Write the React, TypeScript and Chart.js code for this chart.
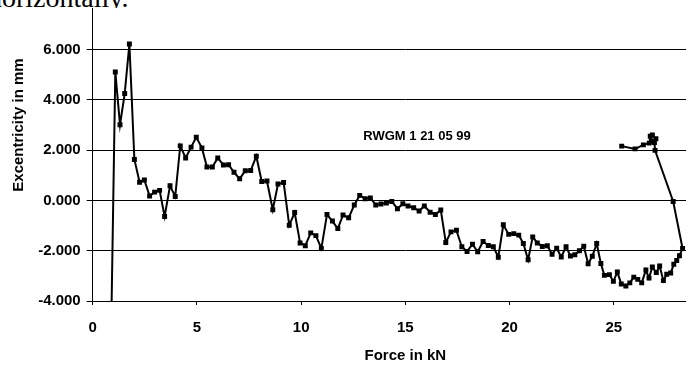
import React, { useEffect, useRef } from 'react';
import { Chart, registerables } from 'chart.js';

Chart.register(...registerables);

// Force in kN (loading up to ~28.3 kN, then unloading)
const forceKN: number[] = [
  0.89, 1.085, 1.31, 1.535, 1.76, 2.0, 2.25, 2.48, 2.73, 2.97, 3.21, 3.45, 3.71, 3.96,
  4.2, 4.46, 4.72, 4.97, 5.24, 5.48, 5.74, 6.0, 6.27, 6.52, 6.78, 7.05, 7.32, 7.58,
  7.85, 8.11, 8.36, 8.64, 8.89, 9.16, 9.43, 9.69, 9.95, 10.2, 10.46, 10.71, 10.97,
  11.24, 11.5, 11.76, 12.01, 12.28, 12.55, 12.81, 13.07, 13.32, 13.58, 13.83, 14.09,
  14.35, 14.62, 14.88, 15.13, 15.4, 15.66, 15.91, 16.19, 16.44, 16.7, 16.94, 17.19,
  17.45, 17.71, 17.96, 18.22, 18.47, 18.73, 18.98, 19.22, 19.46, 19.7, 19.96, 20.2,
  20.44, 20.66, 20.89, 21.11, 21.33, 21.57, 21.81, 22.04, 22.26, 22.48, 22.71, 22.92,
  23.13, 23.35, 23.56, 23.77, 23.97, 24.18, 24.38, 24.55, 24.79, 24.98, 25.17, 25.36,
  25.58, 25.77, 25.96, 26.15, 26.34, 26.54, 26.69, 26.85, 27.04, 27.2, 27.38, 27.54,
  27.73, 27.88, 28.02, 28.15, 28.3,
  27.85, 26.98, 26.95, 27.02, 26.85, 26.75, 26.8, 26.7, 26.42, 26.02, 25.38,
];

// Excentricity in mm
const excentricityMM: number[] = [
  -5.0, 5.11, 3.01, 4.25, 6.22, 1.63, 0.72, 0.81, 0.18, 0.33, 0.4, -0.64, 0.58, 0.16,
  2.17, 1.69, 2.12, 2.51, 2.09, 1.33, 1.33, 1.69, 1.41, 1.42, 1.12, 0.86, 1.18, 1.19,
  1.76, 0.75, 0.77, -0.37, 0.65, 0.71, -0.99, -0.48, -1.69, -1.8, -1.29, -1.4, -1.91,
  -0.56, -0.82, -1.12, -0.58, -0.69, -0.18, 0.2, 0.07, 0.1, -0.18, -0.14, -0.1,
  -0.04, -0.33, -0.13, -0.22, -0.29, -0.42, -0.22, -0.47, -0.56, -0.38, -1.67, -1.25,
  -1.19, -1.84, -2.03, -1.74, -2.04, -1.63, -1.79, -1.84, -2.26, -0.97, -1.35, -1.32,
  -1.38, -1.71, -2.36, -1.45, -1.69, -1.83, -1.8, -2.14, -1.9, -2.25, -1.84, -2.21,
  -2.16, -2.0, -1.82, -2.52, -2.22, -1.71, -2.51, -2.98, -2.95, -3.22, -2.85, -3.32,
  -3.4, -3.28, -3.05, -3.14, -3.28, -2.77, -3.09, -2.65, -2.87, -2.61, -3.19, -2.94,
  -2.89, -2.54, -2.39, -2.2, -1.91,
  -0.04, 1.99, 2.3, 2.45, 2.6, 2.55, 2.35, 2.28, 2.21, 2.05, 2.16,
];

const xAxisTitle = 'Force in kN';
const yAxisTitle = 'Excentricity in mm';
const xRange = [0, 30];
const yRange = [-4, 10];
const xStep = 5;
const yStep = 2;
const annotationText = 'RWGM 1 21 05 99';
const annotationAt = { x: 15.56, y: 2.55 };
const headerText = 'horizontally.';

const FONT = '"Liberation Sans", Arial, Helvetica, sans-serif';

export default function App() {
  const ref = useRef<HTMLCanvasElement>(null);

  useEffect(() => {
    if (!ref.current) return;
    const data = forceKN.map((f, i) => ({ x: f, y: excentricityMM[i] }));

    const annotate = {
      id: 'annotate',
      afterDatasetsDraw(chart: any) {
        const { ctx, scales } = chart;
        ctx.save();
        ctx.font = `bold 13px ${FONT}`;
        ctx.fillStyle = '#000';
        ctx.textAlign = 'center';
        ctx.textBaseline = 'middle';
        ctx.fillText(
          annotationText,
          scales.x.getPixelForValue(annotationAt.x),
          scales.y.getPixelForValue(annotationAt.y)
        );
        ctx.restore();
      },
    };

    const chart = new Chart(ref.current, {
      type: 'line',
      data: {
        datasets: [
          {
            data,
            borderColor: '#000',
            borderWidth: 2,
            pointStyle: 'rect',
            pointRadius: 3.5,
            pointBackgroundColor: '#000',
            pointBorderColor: '#000',
            pointBorderWidth: 0,
            tension: 0,
            fill: false,
          },
        ],
      },
      options: {
        animation: false,
        responsive: false,
        layout: { padding: { top: 10, right: 22, left: 0, bottom: 0 } },
        plugins: {
          legend: { display: false },
          tooltip: { enabled: false },
        },
        scales: {
          x: {
            type: 'linear',
            min: xRange[0],
            max: xRange[1],
            afterFit: (s: any) => {
              s.height = 64;
            },
            ticks: {
              stepSize: xStep,
              color: '#000',
              padding: 13.5,
              font: { family: FONT, size: 15, weight: 'bold' },
              maxRotation: 0,
            },
            grid: {
              display: true,
              drawOnChartArea: false,
              drawTicks: true,
              tickLength: 4,
              color: '#000',
            },
            border: { display: true, color: '#000', width: 1 },
            title: {
              display: true,
              text: xAxisTitle,
              color: '#000',
              font: { family: FONT, size: 15, weight: 'bold' },
              padding: { top: 0, bottom: 0 },
            },
          },
          y: {
            type: 'linear',
            min: yRange[0],
            max: yRange[1],
            afterFit: (s: any) => {
              s.width = 92.7;
            },
            ticks: {
              stepSize: yStep,
              color: '#000',
              padding: 6,
              font: { family: FONT, size: 15, weight: 'bold' },
              callback: (v: any) => Number(v).toFixed(3),
            },
            grid: {
              display: true,
              drawOnChartArea: true,
              drawTicks: true,
              tickLength: 6,
              color: '#000',
            },
            border: { display: true, color: '#000', width: 1 },
            title: {
              display: true,
              text: yAxisTitle,
              color: '#000',
              font: { family: FONT, size: 15, weight: 'bold' },
              padding: { top: 10, bottom: 0 },
            },
          },
        },
      },
      plugins: [annotate],
    } as any);

    return () => chart.destroy();
  }, []);

  return (
    <div
      style={{
        position: 'fixed',
        left: 0,
        top: 0,
        width: 686,
        height: 365,
        overflow: 'hidden',
        background: '#fff',
      }}
    >
      <canvas
        ref={ref}
        width={740}
        height={431}
        style={{ position: 'absolute', left: 0, top: -66, width: 740, height: 431 }}
      />
      <div
        style={{
          position: 'absolute',
          left: 0,
          top: 0,
          width: 686,
          height: 8,
          overflow: 'hidden',
          background: '#fff',
        }}
      >
        <div
          style={{
            position: 'absolute',
            left: -12,
            top: -16,
            fontFamily: '"Liberation Serif", "Times New Roman", serif',
            fontSize: 28,
            lineHeight: '28px',
            whiteSpace: 'nowrap',
            color: '#000',
          }}
        >
          {headerText}
        </div>
      </div>
    </div>
  );
}
